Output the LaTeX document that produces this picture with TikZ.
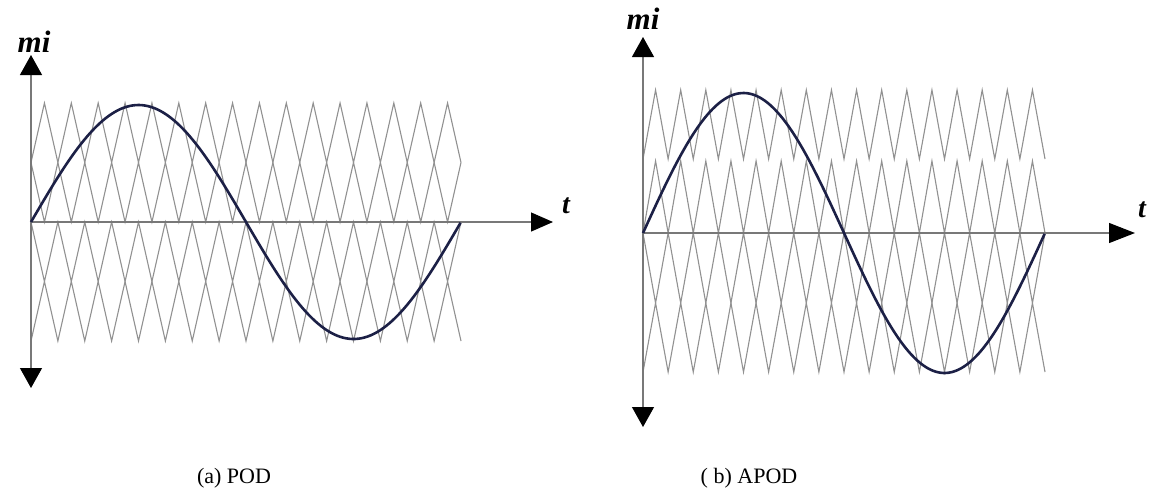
\documentclass[tikz,border=0pt]{standalone}
\usepackage{fontspec}
\setmainfont{Liberation Serif}
\usetikzlibrary{arrows.meta}
\definecolor{carrier}{RGB}{145,145,145}
\definecolor{axisgray}{RGB}{120,120,120}
\definecolor{sinecol}{RGB}{28,32,70}
\begin{document}
\begin{tikzpicture}[x=1pt,y=-1pt,
  carrierline/.style={draw=carrier,line width=1.1pt,line join=miter},
  axisline/.style={draw=axisgray,line width=1.2pt},
  vtip/.style={-{Triangle[length=20pt,width=22pt,color=black,fill=black]}},
  htip/.style={-{Triangle[length=22pt,width=19pt,color=black,fill=black]}},
  sineline/.style={draw=sinecol,line width=2.6pt},
  axlabel/.style={font=\fontsize{31}{33}\selectfont\bfseries\itshape,inner sep=0pt},
  tlabel/.style={font=\fontsize{28}{30}\selectfont\bfseries\itshape,inner sep=0pt},
  caption/.style={font=\fontsize{22}{24}\selectfont,inner sep=0pt}]
\useasboundingbox (0,0) rectangle (1153,491);

% ================= (a) POD =================
\def\xa{31}\def\ha{13.4375}
\foreach \ystart/\yodd in {162.5/103, 162.5/222, 222/281.5, 341/281.5}{
  \draw[carrierline] (\xa,\ystart) \foreach \k in {1,...,32}{
    -- ({\xa+\k*\ha},{ifthenelse(isodd(\k),\yodd,\ystart)}) };
}
\coordinate (aO) at (31,222);
\coordinate (aTop) at (31,55);
\coordinate (aBot) at (31,388);
\coordinate (aRight) at (553,222);
\draw[axisline,vtip] (aO) -- (aTop);
\draw[axisline,vtip] (aO) -- (aBot);
\draw[axisline,htip] (aO) -- (aRight);
\draw[sineline] plot[domain=0:1,samples=140,smooth] ({31+430*\x},{222-117*sin(360*\x)});
\node[axlabel] (amlabel) at (34,42) {mi};
\node[tlabel] (atlabel) at (566,206) {t};
\node[caption] (acap) at (234,478) {(a) POD};

% ================= (b) APOD =================
\def\xb{643}\def\hb{12.5625}
\foreach \ystart/\yodd in {159/90, 233/161, 233/303, 372/303}{
  \draw[carrierline] (\xb,\ystart) \foreach \k in {1,...,32}{
    -- ({\xb+\k*\hb},{ifthenelse(isodd(\k),\yodd,\ystart)}) };
}
\coordinate (bO) at (643,233);
\coordinate (bTop) at (643,37);
\coordinate (bBot) at (643,427);
\coordinate (bRight) at (1135,233);
\draw[axisline,vtip] (bO) -- (bTop);
\draw[axisline,vtip] (bO) -- (bBot);
\draw[axisline,-{Triangle[length=26pt,width=20pt,color=black,fill=black]}] (bO) -- (bRight);
\draw[sineline] plot[domain=0:1,samples=140,smooth] ({643+402*\x},{233-140*sin(360*\x)});
\node[axlabel] (bmlabel) at (643,19) {mi};
\node[tlabel] (btlabel) at (1142,210) {t};
\node[caption] (bcap) at (749,478) {( b) APOD};
\end{tikzpicture}
\end{document}
